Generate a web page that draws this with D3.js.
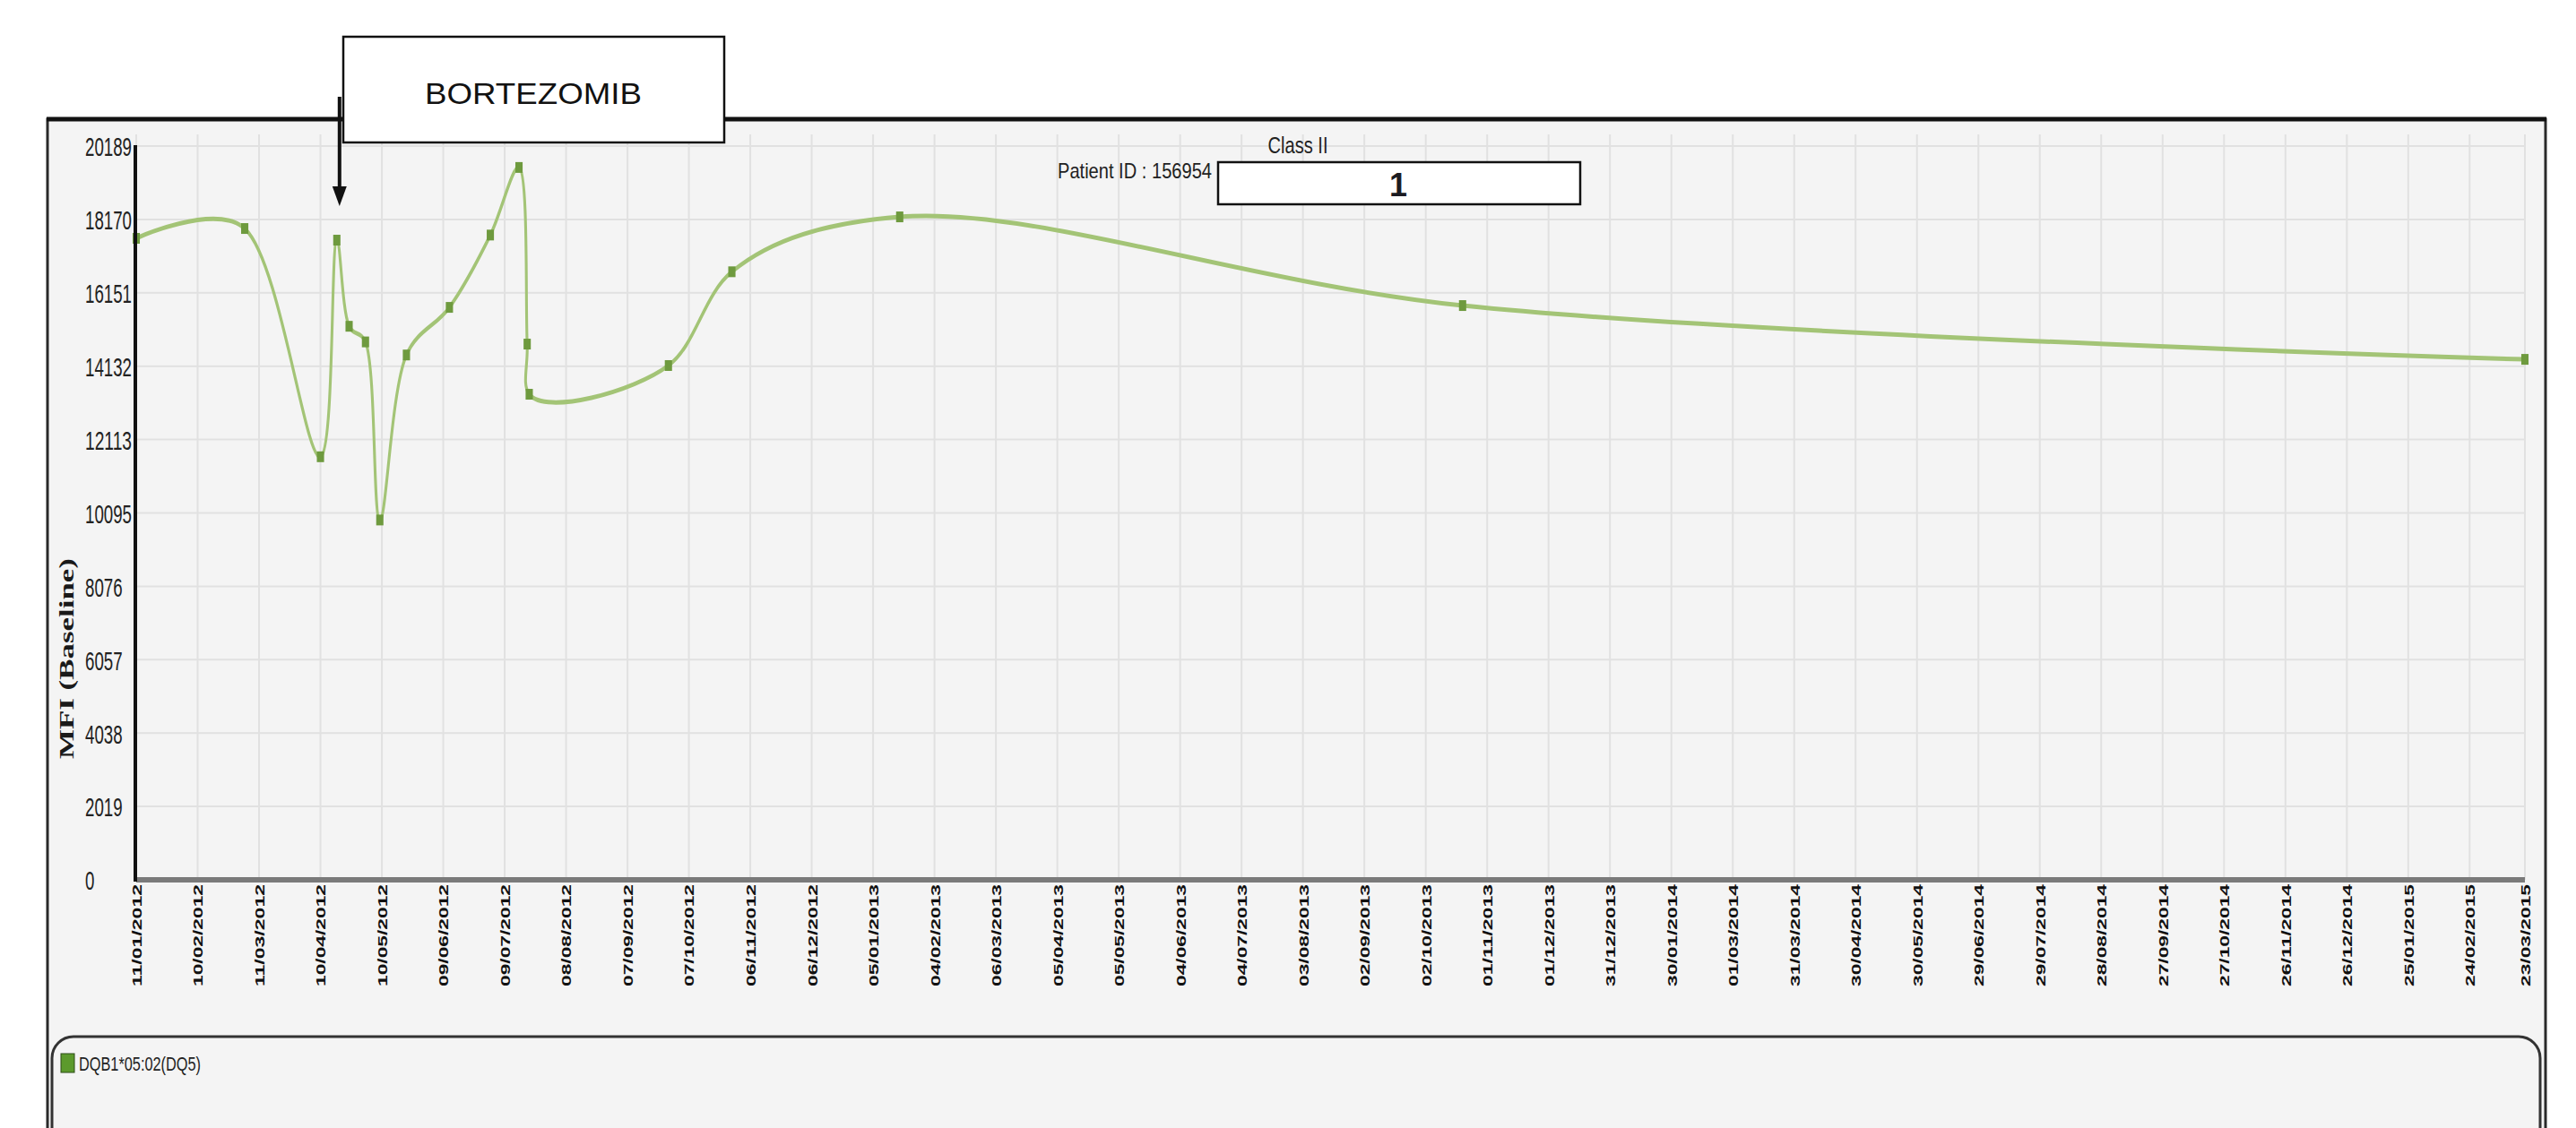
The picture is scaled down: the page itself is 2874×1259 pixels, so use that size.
<!DOCTYPE html>
<html>
<head>
<meta charset="utf-8">
<script src="https://cdn.jsdelivr.net/npm/d3@7/dist/d3.min.js"></script>
<style>
  html, body { margin: 0; padding: 0; background: #ffffff; }
  svg { display: block; }
  text { font-family: "Liberation Sans", Arial, sans-serif; }
</style>
</head>
<body>
<svg id="chart" width="2874" height="1259"></svg>
<script>
// Tick labels on the date axis (every 30 days, plus the final visit)
const dateTicks = [
  "11/01/2012","10/02/2012","11/03/2012","10/04/2012","10/05/2012","09/06/2012",
  "09/07/2012","08/08/2012","07/09/2012","07/10/2012","06/11/2012","06/12/2012",
  "05/01/2013","04/02/2013","06/03/2013","05/04/2013","05/05/2013","04/06/2013",
  "04/07/2013","03/08/2013","02/09/2013","02/10/2013","01/11/2013","01/12/2013",
  "31/12/2013","30/01/2014","01/03/2014","31/03/2014","30/04/2014","30/05/2014",
  "29/06/2014","29/07/2014","28/08/2014","27/09/2014","27/10/2014","26/11/2014",
  "26/12/2014","25/01/2015","24/02/2015","23/03/2015"
];

// MFI value ticks
const mfiTicks = [0, 2019, 4038, 6057, 8076, 10095, 12113, 14132, 16151, 18170, 20189];

// Sample dates and MFI values for DQB1*05:02 (DQ5)
const sampleDates = [
  "11/01/2012","04/03/2012","10/04/2012","18/04/2012","24/04/2012","02/05/2012",
  "09/05/2012","22/05/2012","12/06/2012","02/07/2012","16/07/2012","20/07/2012",
  "21/07/2012","27/09/2012","28/10/2012","18/01/2013","20/10/2013","23/03/2015"
];
const mfiValues = [
  17650, 17920, 11640, 17600, 15230, 14800,
  9900, 14440, 15750, 17740, 19600, 14740,
  13360, 14150, 16730, 18240, 15800, 14320
];

const seriesName = "DQB1*05:02(DQ5)";
const treatmentLabel = "BORTEZOMIB";
const treatmentDate = "18/04/2012";

const parse = d3.timeParse("%d/%m/%Y");
const fmt = d3.timeFormat("%d/%m/%Y");
const svg = d3.select("#chart");

// Plot geometry
const plotLeft = 152, plotRight = 2817, plotTop = 163, plotBottom = 982;
const squeeze = 0.62; // horizontal aspect of the rendered plot

const x = d3.scaleTime()
  .domain([parse(dateTicks[0]), parse(dateTicks[dateTicks.length - 1])])
  .range([plotLeft, plotRight]);
const y = d3.scaleLinear().domain([0, 20189]).range([plotBottom, plotTop]);

// Outer frame
svg.append("rect").attr("x", 53).attr("y", 133).attr("width", 2787).attr("height", 1200)
  .attr("fill", "#f4f4f4").attr("stroke", "#2a2a2a").attr("stroke-width", 3);
svg.append("line").attr("x1", 52).attr("x2", 2841).attr("y1", 133).attr("y2", 133)
  .attr("stroke", "#111").attr("stroke-width", 5);

// Gridlines
const tickDates = dateTicks.map(parse);
svg.append("g").selectAll("line").data(tickDates).join("line")
  .attr("x1", d => x(d)).attr("x2", d => x(d))
  .attr("y1", 150).attr("y2", plotBottom)
  .attr("stroke", "#e1e1e1").attr("stroke-width", 2);
svg.append("g").selectAll("line").data(mfiTicks).join("line")
  .attr("x1", plotLeft).attr("x2", plotRight)
  .attr("y1", d => y(d)).attr("y2", d => y(d))
  .attr("stroke", "#e1e1e1").attr("stroke-width", 2);

// Y axis labels
const yAxis = svg.append("g").attr("transform", `translate(${plotLeft - 1},0)`)
  .call(d3.axisLeft(y).tickValues(mfiTicks).tickSize(0).tickFormat(d3.format("d")));
yAxis.select(".domain").remove();
yAxis.selectAll("text")
  .attr("x", 95 - (plotLeft - 1))
  .attr("text-anchor", "start")
  .attr("dy", "0.36em")
  .attr("fill", "#222")
  .style("font-size", "30px")
  .attr("textLength", d => String(d).length * 10.4)
  .attr("lengthAdjust", "spacingAndGlyphs");

// X axis labels
const xAxis = svg.append("g").attr("transform", `translate(0,${plotBottom})`)
  .call(d3.axisBottom(x).tickValues(tickDates).tickSize(0).tickFormat(fmt));
xAxis.select(".domain").remove();
xAxis.selectAll("text")
  .attr("transform", "rotate(-90)")
  .attr("x", -5).attr("y", 0).attr("dy", "0.36em")
  .attr("text-anchor", "end")
  .attr("fill", "#111")
  .style("font-size", "15px")
  .style("font-weight", "bold")
  .attr("textLength", 114)
  .attr("lengthAdjust", "spacingAndGlyphs");

// Axis title
svg.append("text")
  .attr("transform", "translate(74,735) rotate(-90)")
  .attr("text-anchor", "middle").attr("dy", "0.35em")
  .style("font-family", "'Liberation Serif', 'Times New Roman', serif")
  .style("font-weight", "bold").style("font-size", "24px")
  .attr("fill", "#1a1a1a")
  .attr("textLength", 224).attr("lengthAdjust", "spacingAndGlyphs")
  .text("MFI (Baseline)");

// Series line and markers, drawn in an unsqueezed frame then compressed horizontally
const xs = x.copy().range([plotLeft / squeeze, plotRight / squeeze]);
const pts = sampleDates.map((d, i) => ({ date: parse(d), value: mfiValues[i] }));
const plot = svg.append("g").attr("transform", `scale(${squeeze},1)`);
plot.append("path").datum(pts)
  .attr("fill", "none")
  .attr("stroke", "#a3c476")
  .attr("stroke-width", 5)
  .attr("stroke-linejoin", "round")
  .attr("d", d3.line().x(d => xs(d.date)).y(d => y(d.value)).curve(d3.curveCatmullRom.alpha(0.5)));
plot.selectAll("rect").data(pts).join("rect")
  .attr("x", d => xs(d.date) - 6.5).attr("y", d => y(d.value) - 6)
  .attr("width", 13).attr("height", 12)
  .attr("fill", "#6e9a3e");

// Axis lines on top of the series
svg.append("line").attr("x1", plotLeft).attr("x2", plotRight)
  .attr("y1", plotBottom).attr("y2", plotBottom)
  .attr("stroke", "#7a7a7a").attr("stroke-width", 6);
svg.append("line").attr("x1", plotLeft - 1).attr("x2", plotLeft - 1)
  .attr("y1", plotTop - 1).attr("y2", plotBottom + 2)
  .attr("stroke", "#111").attr("stroke-width", 4);

// Header: class and patient
svg.append("text").attr("x", 1448).attr("y", 162).attr("dy", "0.35em")
  .attr("text-anchor", "middle").style("font-size", "26px").attr("fill", "#222")
  .attr("textLength", 67).attr("lengthAdjust", "spacingAndGlyphs")
  .text("Class II");
svg.append("text").attr("x", 1352).attr("y", 191).attr("dy", "0.35em")
  .attr("text-anchor", "end").style("font-size", "24px").attr("fill", "#222")
  .attr("textLength", 172).attr("lengthAdjust", "spacingAndGlyphs")
  .text("Patient ID : 156954");
svg.append("rect").attr("x", 1359).attr("y", 181).attr("width", 404).attr("height", 47)
  .attr("fill", "#ffffff").attr("stroke", "#111").attr("stroke-width", 2.5);
svg.append("text").attr("x", 1560).attr("y", 206).attr("dy", "0.36em")
  .attr("text-anchor", "middle").style("font-size", "36px").style("font-weight", "bold")
  .attr("fill", "#1b1b22").text("1");

// Treatment annotation
const tx = x(parse(treatmentDate));
svg.append("line").attr("x1", tx + 3).attr("x2", tx + 3).attr("y1", 108).attr("y2", 214)
  .attr("stroke", "#111").attr("stroke-width", 4);
svg.append("path")
  .attr("d", `M${tx - 5},208 L${tx + 11},208 L${tx + 3},230 Z`)
  .attr("fill", "#111");
svg.append("rect").attr("x", 383).attr("y", 41).attr("width", 425).attr("height", 118)
  .attr("fill", "#ffffff").attr("stroke", "#111").attr("stroke-width", 2.5);
svg.append("text").attr("x", 595).attr("y", 104).attr("dy", "0.35em")
  .attr("text-anchor", "middle").style("font-size", "34px").attr("fill", "#111")
  .attr("textLength", 242).attr("lengthAdjust", "spacingAndGlyphs")
  .text(treatmentLabel);

// Legend panel
svg.append("rect").attr("x", 58).attr("y", 1157).attr("width", 2776).attr("height", 220)
  .attr("rx", 24).attr("ry", 24)
  .attr("fill", "#f4f4f4").attr("stroke", "#333").attr("stroke-width", 3);
svg.append("rect").attr("x", 68).attr("y", 1176).attr("width", 15).attr("height", 21)
  .attr("fill", "#5c9a2c").attr("stroke", "#2d4d18").attr("stroke-width", 1);
svg.append("text").attr("x", 88).attr("y", 1187).attr("dy", "0.35em")
  .style("font-size", "22px").attr("fill", "#222")
  .attr("textLength", 136).attr("lengthAdjust", "spacingAndGlyphs")
  .text(seriesName);
</script>
</body>
</html>
